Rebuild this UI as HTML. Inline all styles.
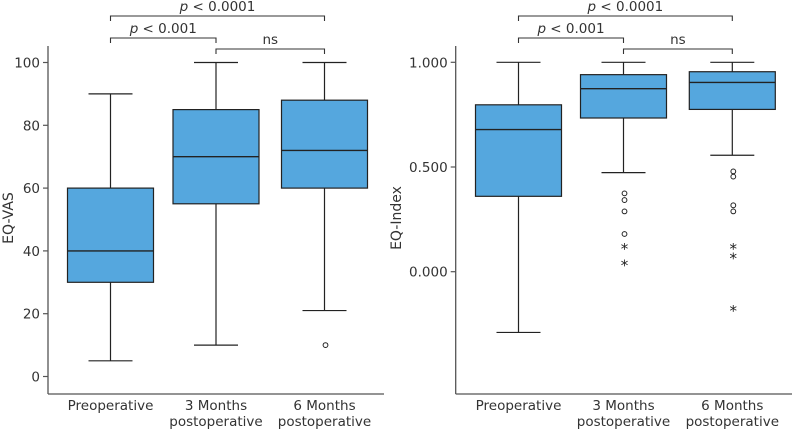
<!DOCTYPE html>
<html><head><meta charset="utf-8"><style>
html,body{margin:0;padding:0;background:#fff;}
svg{display:block;font-family:"DejaVu Sans","Liberation Sans",sans-serif;}
</style></head><body>
<svg id="chart" width="794" height="430" viewBox="0 0 794 430"></svg>
<script>
const categories = ["Preoperative", "3 Months|postoperative", "6 Months|postoperative"];
// [whiskerLow, q1, median, q3, whiskerHigh]
const vasStats = [[5,30,40,60,90],[10,55,70,85,100],[21,60,72,88,100]];
const vasCircles = [[],[],[10]];
const vasStars = [[],[],[]];
const vasTicks = [0,20,40,60,80,100];
const vasTickLabels = ["0","20","40","60","80","100"];
const idxStats = [[-0.29,0.36,0.679,0.797,1.0],[0.473,0.734,0.874,0.941,1.0],[0.556,0.775,0.904,0.955,1.0]];
const idxCircles = [[],[0.374,0.342,0.288,0.18],[0.479,0.454,0.317,0.288]];
const idxStars = [[],[0.117,0.04],[0.117,0.072,-0.177]];
const idxTicks = [0,0.5,1.0];
const idxTickLabels = ["0.000","0.500","1.000"];
const brackets = [
  {from:0,to:2,label:"p < 0.0001",level:0},
  {from:0,to:1,label:"p < 0.001",level:1},
  {from:1,to:2,label:"ns",level:2}
];

const svg = document.getElementById('chart');
const NS = 'http://www.w3.org/2000/svg';
function mk(tag, attrs, parent){
  const e = document.createElementNS(NS, tag);
  for (const k in attrs) e.setAttribute(k, attrs[k]);
  (parent||svg).appendChild(e);
  return e;
}

function panel(cfg){
  const g = mk('g', {});
  
  
  const yScale = v => cfg.y0px + (v - cfg.v0) * (cfg.y1px - cfg.y0px) / (cfg.v1 - cfg.v0);
  const xScale = i => cfg.centers[i];
  const half = 43, cap = 22;
  const ya = mk('line', {x1:cfg.axisX,y1:46,x2:cfg.axisX,y2:394,stroke:'#555','stroke-width':1.3}, g);
  
  
  const xa = mk('line', {x1:cfg.axisX,y1:394,x2:cfg.axisEnd,y2:394,stroke:'#555','stroke-width':1.3}, g);
  
  
  cfg.ticks.forEach((t, i) => {
    const y = yScale(t);
    const tl = mk('line', {x1:cfg.axisX-5,y1:y,x2:cfg.axisX,y2:y,stroke:'#555','stroke-width':1.2}, g);
    
    
    const tx = mk('text', {x:cfg.axisX-8,y:y+5,'text-anchor':'end','font-size':13.5,fill:'#333'}, g);
    tx.textContent = cfg.tickLabels[i];
    
    
  });
  const yt = mk('text', {x:0,y:0,'text-anchor':'middle','font-size':14,fill:'#333',transform:`translate(${cfg.titleX},218) rotate(-90)`}, g);
  yt.textContent = cfg.title;
  
  
  categories.forEach((c, i) => {
    const cx = xScale(i);
    const parts = c.split('|');
    parts.forEach((p, j) => {
      const t = mk('text', {x:cx,y:410+j*16,'text-anchor':'middle','font-size':13.5,fill:'#333'}, g);
      t.textContent = p;
      
      
    });
    const s = cfg.stats[i];
    const w1 = mk('line', {x1:cx,y1:yScale(s[0]),x2:cx,y2:yScale(s[1]),stroke:'#222','stroke-width':1.2}, g);
    
    
    const w2 = mk('line', {x1:cx,y1:yScale(s[3]),x2:cx,y2:yScale(s[4]),stroke:'#222','stroke-width':1.2}, g);
    
    
    [s[0], s[4]].forEach(v => {
      const cp = mk('line', {x1:cx-cap,y1:yScale(v),x2:cx+cap,y2:yScale(v),stroke:'#222','stroke-width':1.2}, g);
      
      
    });
    const b = mk('rect', {x:cx-half,y:yScale(s[3]),width:half*2,height:yScale(s[1])-yScale(s[3]),fill:'#55a7de',stroke:'#222','stroke-width':1.2}, g);
    
    
    const m = mk('line', {x1:cx-half,y1:yScale(s[2]),x2:cx+half,y2:yScale(s[2]),stroke:'#222','stroke-width':1.4}, g);
    
    
    cfg.circles[i].forEach(v => {
      const o = mk('circle', {cx:cx+1,cy:yScale(v),r:2.4,fill:'none',stroke:'#222','stroke-width':1}, g);
      
      
    });
    cfg.stars[i].forEach(v => {
      const st = mk('text', {x:cx+1,y:yScale(v)+7,'text-anchor':'middle','font-size':15,fill:'#222'}, g);
      st.textContent = '*';
      
      
    });
  });
  const lvY = [16, 38, 49];
  brackets.forEach(br => {
    const x1 = xScale(br.from), x2 = xScale(br.to), y = lvY[br.level];
    const p = mk('path', {d:`M${x1},${y+5}V${y}H${x2}V${y+5}`,fill:'none',stroke:'#333','stroke-width':1.1}, g);
    
    
    const t = mk('text', {x:(x1+x2)/2,y:y-5,'text-anchor':'middle','font-size':13.5,fill:'#333'}, g);
    if (br.label.startsWith('p')) {
      const ts = mk('tspan', {'font-style':'italic'}, t); ts.textContent = 'p';
      const tr = mk('tspan', {}, t); tr.textContent = br.label.slice(1);
    } else t.textContent = br.label;
    
    
  });
}

panel({name:'eq-vas-panel', axisX:48, axisEnd:384, centers:[110.5,216,324.5], v0:0, v1:100, y0px:376.5, y1px:62.5,
  ticks:vasTicks, tickLabels:vasTickLabels, title:'EQ-VAS', titleX:13, stats:vasStats, circles:vasCircles, stars:vasStars});
panel({name:'eq-index-panel', axisX:455.7, axisEnd:792, centers:[518.5,623.5,732.3], v0:0, v1:1, y0px:271.7, y1px:62.3,
  ticks:idxTicks, tickLabels:idxTickLabels, title:'EQ-Index', titleX:401, stats:idxStats, circles:idxCircles, stars:idxStars});
</script>
</body></html>
